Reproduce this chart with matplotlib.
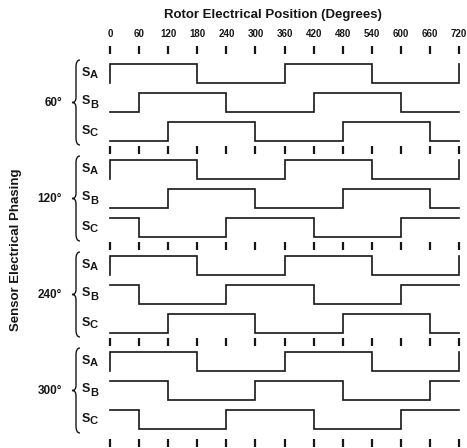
import matplotlib
matplotlib.use('Agg')
import matplotlib.pyplot as plt
from matplotlib.path import Path
from matplotlib.patches import PathPatch

plt.rcParams['font.family'] = ['Liberation Sans', 'DejaVu Sans']

# rotor position ticks (degrees)
positions = [0, 60, 120, 180, 240, 300, 360, 420, 480, 540, 600, 660, 720]

# sensor phasing groups
phasings = ['60°', '120°', '240°', '300°']
sensors = ['A', 'B', 'C']

# logic level per 60 degree segment, from -60..0 up to 720..780
# (first and last entries give the edges seen at 0 and 720)
sa = [0, 1, 1, 1, 0, 0, 0, 1, 1, 1, 0, 0, 0, 1]
levels_60 = [sa,
             [0, 0, 1, 1, 1, 0, 0, 0, 1, 1, 1, 0, 0, 0],
             [0, 0, 0, 1, 1, 1, 0, 0, 0, 1, 1, 1, 0, 0]]
levels_120 = [sa,
              [0, 0, 0, 1, 1, 1, 0, 0, 0, 1, 1, 1, 0, 0],
              [1, 1, 0, 0, 0, 1, 1, 1, 0, 0, 0, 1, 1, 1]]
levels_240 = [sa,
              [1, 1, 0, 0, 0, 1, 1, 1, 0, 0, 0, 1, 1, 1],
              [0, 0, 0, 1, 1, 1, 0, 0, 0, 1, 1, 1, 0, 0]]
levels_300 = [sa,
              [1, 1, 1, 0, 0, 0, 1, 1, 1, 0, 0, 0, 1, 1],
              [1, 1, 0, 0, 0, 1, 1, 1, 0, 0, 0, 1, 1, 1]]
all_levels = [levels_60, levels_120, levels_240, levels_300]
seg_edges = [-60 + 60 * k for k in range(15)]

ink = '#161616'
x0_px, x720_px = 110, 459
scale = 720 / (x720_px - x0_px)


def px(x):
    # pixel column -> degrees on the axis
    return (x - x0_px) * scale


fig = plt.figure(figsize=(4.67, 4.48), dpi=100)
ax = fig.add_axes([0, 0, 1, 1])
ax.set_xlim(px(0), px(467))
ax.set_ylim(448, 0)
ax.axis('off')

group_step = 96
row_step = 29
amp = 19
top = 64


def draw_brace(y_top, y_bot, x_tip, x_arm):
    mid = (y_top + y_bot) / 2
    xm = (x_tip + x_arm) / 2
    verts = [(x_arm, y_top), (xm, y_top), (xm, y_top + 7),
             (xm, mid - 5),
             (xm, mid), (x_tip, mid),
             (xm, mid), (xm, mid + 5),
             (xm, y_bot - 7),
             (xm, y_bot), (x_arm, y_bot)]
    codes = [Path.MOVETO, Path.CURVE3, Path.CURVE3, Path.LINETO,
             Path.CURVE3, Path.CURVE3, Path.CURVE3, Path.CURVE3,
             Path.LINETO, Path.CURVE3, Path.CURVE3]
    verts = [(px(a), b) for a, b in verts]
    ax.add_patch(PathPatch(Path(verts, codes), fill=False, lw=1.0, ec=ink))


for g, levels in enumerate(all_levels):
    gy = top + g * group_step
    for s, lv in enumerate(levels):
        hi = gy + s * row_step
        lo = hi + amp
        yv = [lo if v == 0 else hi for v in lv]
        xs = [0]
        ys = [yv[0]]
        for k in range(1, 13):
            xs += [seg_edges[k], seg_edges[k + 1]]
            ys += [yv[k], yv[k]]
        xs.append(720)
        ys.append(yv[13])
        ax.plot(xs, ys, color=ink, lw=1.2, solid_joinstyle='miter')
        cy = (hi + lo) / 2
        ax.text(px(82), cy - 1, 'S', fontsize=9, fontweight='bold',
                ha='left', va='center', color=ink)
        ax.text(px(90), cy + 2, sensors[s], fontsize=8, fontweight='bold',
                ha='left', va='center', color=ink)
    draw_brace(gy - 4, gy + 2 * row_step + amp + 4, 72, 80)
    ax.text(px(62), gy + row_step + amp / 2, phasings[g], fontsize=8.5,
            fontweight='bold', ha='right', va='center', color=ink)

# tick rows
tick_rows = [top - 13.5]
for g in range(3):
    tick_rows.append(top + g * group_step + 2 * row_step + amp + 9.5)
tick_rows.append(top + 3 * group_step + 2 * row_step + amp + 14.5)
for ty in tick_rows:
    ax.vlines(positions, ty - 4, ty + 4, color=ink, lw=1.6)

for p in positions:
    ax.text(p, 34, str(p), fontsize=7, fontweight='bold',
            ha='center', va='center', color=ink)

ax.text(px(273), 15, 'Rotor Electrical Position (Degrees)', fontsize=9.5,
        fontweight='bold', ha='center', va='center', color=ink)
ax.text(px(16), 250, 'Sensor Electrical Phasing', fontsize=9.5,
        fontweight='bold', ha='center', va='center', rotation=90, color=ink)

fig.savefig('out.png', dpi=100)
